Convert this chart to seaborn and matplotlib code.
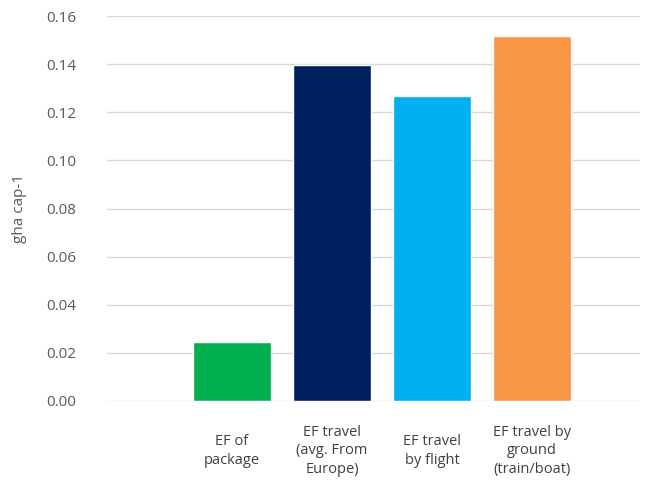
import matplotlib
matplotlib.use("Agg")
import matplotlib.pyplot as plt
import seaborn as sns
import pandas as pd

categories = ["EF of\npackage", "EF travel\n(avg. From\nEurope)", "EF travel\nby flight", "EF travel by\nground\n(train/boat)"]
values = [0.0245, 0.1395, 0.1268, 0.1518]
colors = ["#00B050", "#002060", "#00B0F0", "#F79646"]
yticks = [0.00, 0.02, 0.04, 0.06, 0.08, 0.10, 0.12, 0.14, 0.16]

sns.set_theme(style="white")
plt.rcParams['font.family'] = ['Open Sans', 'DejaVu Sans']

df = pd.DataFrame({"cat": categories, "val": values})

fig = plt.figure(figsize=(6.66, 4.83), dpi=100)
ax = fig.add_axes([107/666, 1-401/483, (640-107)/666, (401-16)/483])

sns.barplot(data=df, x="cat", y="val", hue="cat", palette=colors, width=0.78,
            legend=False, ax=ax, saturation=1)

ax.set_xlim(-1.25, 4.08)
ax.set_ylim(0, 0.16)
ax.set_yticks(yticks)
ax.set_yticklabels([f"{t:.2f}" for t in yticks], fontsize=11, color="#595959")
ax.yaxis.grid(True, color="#D9D9D9", linewidth=1)
ax.set_axisbelow(True)
for s in ax.spines.values():
    s.set_visible(False)
ax.tick_params(axis="y", length=0, pad=22)
ax.tick_params(axis="x", length=0, pad=36)
for lbl in ax.get_xticklabels():
    lbl.set_verticalalignment("center")
    lbl.set_horizontalalignment("center")
    lbl.set_fontsize(10.5)
    lbl.set_color("#404040")
    lbl.set_linespacing(1.3)
ax.set_xlabel("")
ax.set_ylabel("gha cap-1", fontsize=11, color="#595959", labelpad=14)

fig.savefig("out.png", dpi=100)
